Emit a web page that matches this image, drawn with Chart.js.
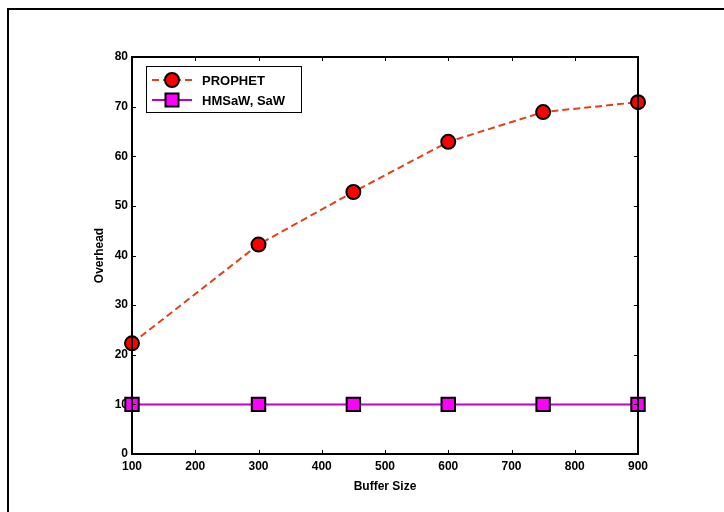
<!DOCTYPE html>
<html>
<head>
<meta charset="utf-8">
<script src="https://cdn.jsdelivr.net/npm/chart.js@4/dist/chart.umd.min.js"></script>
<style>
    html,body{margin:0;padding:0;background:#fff;}
    #wrap{position:relative;width:724px;height:512px;overflow:hidden;}
    #frame{position:absolute;left:7px;top:8px;width:800px;height:600px;border-left:2px solid #000;border-top:2px solid #000;}
    canvas{position:absolute;left:0;top:0;}
</style>
</head>
<body>
<div id="wrap">
<div id="frame"></div>
<canvas id="c" width="724" height="512"></canvas>
</div>
<script>
let
    bufferSizes=[100,300,450,600,750,900],
    prophet=[22.3,42.2,52.8,62.9,68.9,70.9],
    hmsaw=[10,10,10,10,10,10],
    xTicks=[100,200,300,400,500,600,700,800,900],
    yTicks=[0,10,20,30,40,50,60,70,80];

function toPoints(xs,ys) {
    return xs.map((x,i)=>({x:x,y:ys[i]}));
}

const FONT={family:"'Liberation Sans', Arial, sans-serif",size:12,weight:'bold'};

// matlab style box, inward ticks and legend
let boxPlugin={
    id:'box',
    afterDraw:function(chart) {
        let
            ctx=chart.ctx,
            a=chart.chartArea,
            xs=chart.scales.x,
            ys=chart.scales.y;
        ctx.save();
        ctx.strokeStyle='#000';
        ctx.lineWidth=1;
        ctx.beginPath();
        xTicks.forEach(v=>{
            let px=Math.round(xs.getPixelForValue(v))+0.5;
            ctx.moveTo(px,a.bottom);ctx.lineTo(px,a.bottom-4);
            ctx.moveTo(px,a.top);ctx.lineTo(px,a.top+4);
        });
        yTicks.forEach(v=>{
            let py=Math.round(ys.getPixelForValue(v))+0.5;
            ctx.moveTo(a.left,py);ctx.lineTo(a.left+4,py);
            ctx.moveTo(a.right,py);ctx.lineTo(a.right-4,py);
        });
        ctx.stroke();
        ctx.lineWidth=2;
        ctx.strokeRect(a.left,a.top,a.right-a.left,a.bottom-a.top);

        // legend
        let lx=a.left+14,ly=a.top+9,lw=155,lh=46;
        ctx.fillStyle='#fff';
        ctx.fillRect(lx,ly,lw,lh);
        ctx.lineWidth=1;
        ctx.strokeRect(lx+0.5,ly+0.5,lw,lh);
        ctx.font='bold 13px "Liberation Sans", Arial, sans-serif';
        ctx.textBaseline='middle';
        chart.data.datasets.forEach((ds,i)=>{
            let y=ly+14+i*20;
            ctx.strokeStyle=ds.borderColor;
            ctx.lineWidth=2;
            ctx.setLineDash(ds.borderDash||[]);
            ctx.beginPath();
            ctx.moveTo(lx+6,y);ctx.lineTo(lx+46,y);
            ctx.stroke();
            ctx.setLineDash([]);
            ctx.fillStyle=ds.pointBackgroundColor;
            ctx.strokeStyle='#000';
            ctx.beginPath();
            if (ds.pointStyle==='rect')
                ctx.rect(lx+26-6.5,y-6.5,13,13);
            else
                ctx.arc(lx+26,y,7,0,Math.PI*2);
            ctx.fill();
            ctx.stroke();
            ctx.fillStyle='#000';
            ctx.fillText(ds.label,lx+56,y+1);
        });
        ctx.restore();
    }
};

new Chart(
    document.getElementById('c'),
    {
        type:'line',
        data:{
            datasets:[
                {
                    label:'PROPHET',
                    data:toPoints(bufferSizes,prophet),
                    borderColor:'#e2401a',
                    borderWidth:2,
                    borderDash:[7,4],
                    pointStyle:'circle',
                    pointRadius:7,
                    pointBackgroundColor:'#ff0000',
                    pointBorderColor:'#000',
                    pointBorderWidth:2,
                    clip:false
                },
                {
                    label:'HMSaW, SaW',
                    data:toPoints(bufferSizes,hmsaw),
                    borderColor:'#c400c4',
                    borderWidth:2,
                    pointStyle:'rect',
                    pointRadius:9.5,
                    pointBackgroundColor:'#ff00ff',
                    pointBorderColor:'#000',
                    pointBorderWidth:2,
                    clip:false
                }
            ]
        },
        options:{
            responsive:false,
            animation:false,
            layout:{padding:{left:92,top:57,right:86,bottom:14}},
            plugins:{legend:{display:false},tooltip:{enabled:false}},
            scales:{
                x:{
                    type:'linear',
                    min:100,max:900,
                    afterBuildTicks:function(s){s.ticks=xTicks.map(v=>({value:v}));},
                    afterFit:function(s){s.height=44;},
                    grid:{display:false,drawTicks:false},
                    border:{display:false},
                    ticks:{color:'#000',font:FONT,padding:5,maxRotation:0,autoSkip:false},
                    title:{display:true,text:'Buffer Size',color:'#000',font:FONT,padding:{top:2}}
                },
                y:{
                    min:0,max:80,
                    afterBuildTicks:function(s){s.ticks=yTicks.map(v=>({value:v}));},
                    afterFit:function(s){s.width=40;},
                    grid:{display:false,drawTicks:false},
                    border:{display:false},
                    ticks:{color:'#000',font:FONT,padding:4},
                    title:{display:true,text:'Overhead',color:'#000',font:FONT,padding:0}
                }
            }
        },
        plugins:[boxPlugin]
    }
);
</script>
</body>
</html>
